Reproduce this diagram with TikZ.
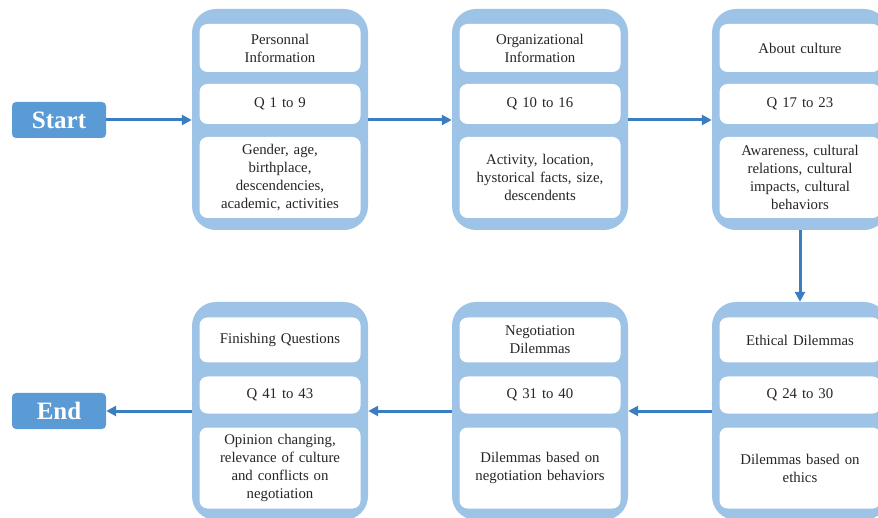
\documentclass[tikz,border=0pt]{standalone}
\usepackage{fontspec}
\setmainfont[WordSpace=0.85]{Liberation Serif}
\usetikzlibrary{arrows.meta}
\definecolor{outerblue}{HTML}{9DC3E6}
\definecolor{termblue}{HTML}{5B9BD5}
\definecolor{arrowblue}{HTML}{3B7DC1}
\definecolor{txt}{HTML}{262626}
\tikzset{
  grp/.style={draw=none, fill=outerblue, rounded corners=24pt, minimum width=176pt, inner sep=0pt},
  cell/.style={draw=none, fill=white, rounded corners=8pt, minimum width=161pt, text width=159pt, align=center, inner sep=0pt, font=\fontsize{14.8}{18}\selectfont, text=txt},
  term/.style={draw=none, fill=termblue, rounded corners=4pt, minimum width=94pt, minimum height=36pt, inner sep=0pt, text=white, font=\fontsize{25}{28}\selectfont\bfseries},
  flow/.style={draw=arrowblue, line width=3pt, -{Triangle[length=10pt,width=10pt]}}
}
\begin{document}
\begin{tikzpicture}[x=1pt,y=-1pt]
\useasboundingbox (0,0) rectangle (878,518);
\clip (0,0) rectangle (878,518);
% terminals
\node[term] (start) at (59,120) {Start};
\node[term] (end) at (59,411) {End};
% top groups
\node[grp, minimum height=221pt] (g1) at (280,119.5) {};
\node[grp, minimum height=221pt] (g2) at (540,119.5) {};
\node[grp, minimum height=221pt] (g3) at (800,119.5) {};
% bottom groups
\node[grp, minimum height=218pt] (g6) at (280,411) {};
\node[grp, minimum height=218pt] (g5) at (540,411) {};
\node[grp, minimum height=218pt] (g4) at (800,411) {};
% group 1
\node[cell, minimum height=48pt] (g1a) at (280,48) {Personnal\\Information};
\node[cell, minimum height=40pt] (g1b) at (280,104) {Q 1 to 9};
\node[cell, minimum height=81pt] (g1c) at (280,177.5) {Gender, age,\\birthplace,\\descendencies,\\academic, activities};
% group 2
\node[cell, minimum height=48pt] (g2a) at (540,48) {Organizational\\Information};
\node[cell, minimum height=40pt] (g2b) at (540,104) {Q 10 to 16};
\node[cell, minimum height=81pt] (g2c) at (540,177.5) {Activity, location,\\hystorical facts, size,\\descendents};
% group 3
\node[cell, minimum height=48pt] (g3a) at (800,48) {About culture};
\node[cell, minimum height=40pt] (g3b) at (800,104) {Q 17 to 23};
\node[cell, minimum height=81pt] (g3c) at (800,177.5) {Awareness, cultural\\relations, cultural\\impacts, cultural\\behaviors};
% group 4
\node[cell, minimum height=45pt] (g4a) at (800,340) {Ethical Dilemmas};
\node[cell, minimum height=37pt] (g4b) at (800,395) {Q 24 to 30};
\node[cell, minimum height=81pt] (g4c) at (800,468) {Dilemmas based on\\ethics};
% group 5
\node[cell, minimum height=45pt] (g5a) at (540,340) {Negotiation\\Dilemmas};
\node[cell, minimum height=37pt] (g5b) at (540,395) {Q 31 to 40};
\node[cell, minimum height=81pt] (g5c) at (540,468) {Dilemmas based on\\negotiation behaviors};
% group 6
\node[cell, minimum height=45pt] (g6a) at (280,340) {Finishing Questions};
\node[cell, minimum height=37pt] (g6b) at (280,395) {Q 41 to 43};
\node[cell, minimum height=81pt] (g6c) at (280,468) {Opinion changing,\\relevance of culture\\and conflicts on\\negotiation};
% connectors
\draw[flow] (start.east) -- (g1.west |- start.east);
\draw[flow] (g1.east |- start.east) -- (g2.west |- start.east);
\draw[flow] (g2.east |- start.east) -- (g3.west |- start.east);
\draw[flow] (g3.south) -- (g4.north);
\draw[flow] (g4.west) -- (g5.east);
\draw[flow] (g5.west) -- (g6.east);
\draw[flow] (g6.west) -- (end.east);
\end{tikzpicture}
\end{document}
